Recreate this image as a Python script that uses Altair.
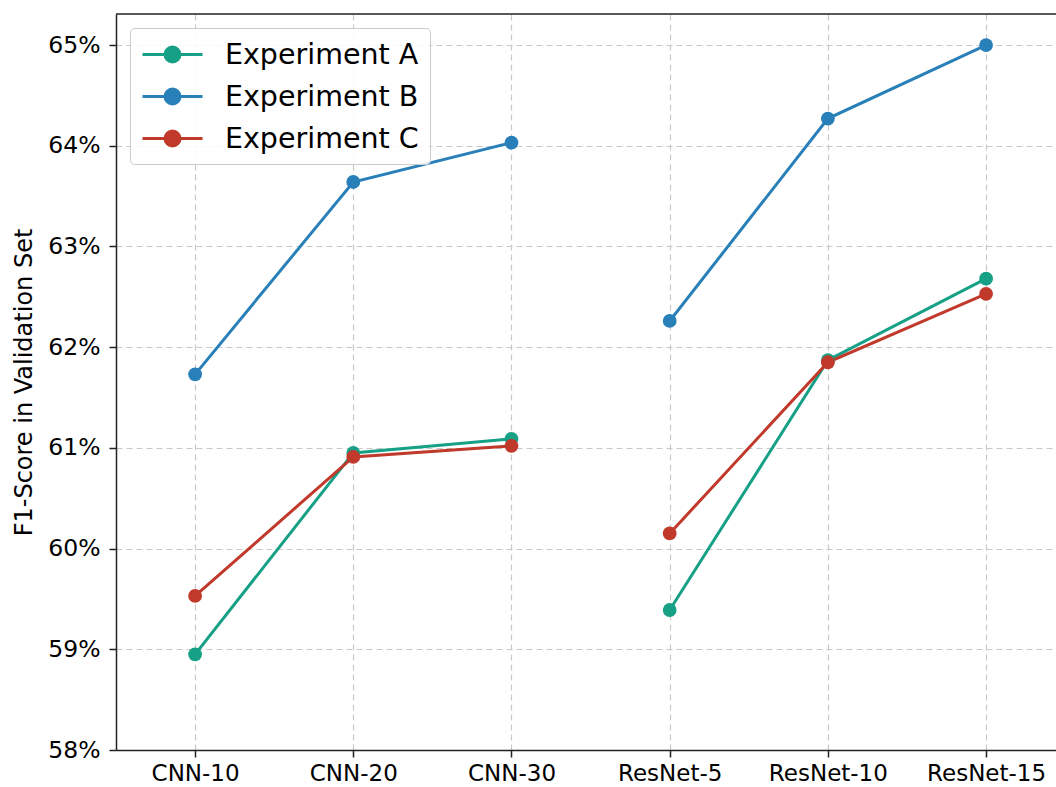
import altair as alt
import pandas as pd

models = ["CNN-10", "CNN-20", "CNN-30", "ResNet-5", "ResNet-10", "ResNet-15"]
groups = ["CNN", "CNN", "CNN", "ResNet", "ResNet", "ResNet"]
series = ["Experiment A", "Experiment B", "Experiment C"]
exp_a = [58.95, 60.95, 61.09, 59.39, 61.87, 62.68]
exp_b = [61.73, 63.64, 64.03, 62.26, 64.27, 65.00]
exp_c = [59.53, 60.91, 61.02, 60.15, 61.85, 62.53]
colors = ["#16a085", "#2980b9", "#c0392b"]
y_ticks = [58, 59, 60, 61, 62, 63, 64, 65]

rows = []
for name, vals in zip(series, [exp_a, exp_b, exp_c]):
    for i, (m, g, v) in enumerate(zip(models, groups, vals)):
        rows.append({"series": name, "idx": i, "model": m, "group": g, "value": v})
df = pd.DataFrame(rows)

W, H = 940, 736
label_expr = "[" + ",".join("'%s'" % m for m in models) + "][datum.value]"

# legend symbol: a 60px line with a filled circle, unit = 14px (symbolSize 784)
u = 14.0
x0, x1 = -1.0, -1.0 + 60 / u
cx = -1.0 + 30 / u
rr = 7.5 / u
sym_path = ("M%.3f,0L%.3f,0M%.3f,0A%.3f,%.3f,0,1,1,%.3f,0A%.3f,%.3f,0,1,1,%.3f,0Z"
            % (x0, x1, cx - rr, rr, rr, cx + rr, rr, rr, cx - rr))

color = alt.Color(
    "series:N",
    scale=alt.Scale(domain=series, range=colors),
    legend=alt.Legend(
        title=None, orient="top-left", offset=14, padding=11,
        symbolType=sym_path, symbolSize=784, symbolStrokeWidth=3,
        symbolOpacity=1, labelFontSize=28.5, labelFont="DejaVu Sans",
        labelColor="#000000", labelOffset=53, rowPadding=12,
        fillColor="rgba(255,255,255,0.85)", strokeColor="#cccccc",
        cornerRadius=4, labelLimit=400,
    ),
)

x = alt.X(
    "idx:Q",
    scale=alt.Scale(domain=[-0.5, 5.442], nice=False, zero=False),
    axis=alt.Axis(values=list(range(len(models))), labelExpr=label_expr, title=None,
                  labelFontSize=23, labelPadding=5, tickSize=7),
)
y = alt.Y(
    "value:Q",
    scale=alt.Scale(domain=[58, 65.308], nice=False, zero=False),
    axis=alt.Axis(values=y_ticks, labelExpr="format(datum.value, 'd') + '%'",
                  title="F1-Score in Validation Set", labelFontSize=23.5,
                  labelPadding=9, tickSize=7, titleFontSize=24,
                  titleFontWeight="normal", titlePadding=11),
)

base = alt.Chart(df)
lines = base.mark_line(strokeWidth=3).encode(
    x=x, y=y, color=color, detail="group:N", order="idx:Q"
)
points = base.mark_circle(size=190, opacity=1).encode(
    x=x, y=y, color=color
)
top = alt.Chart(pd.DataFrame({"a": [0]})).mark_rule(color="#222222", strokeWidth=1.5).encode(
    x=alt.value(0), x2=alt.value(W), y=alt.value(0)
)

chart = alt.layer(lines, points, top).properties(
    width=W, height=H,
    autosize=alt.AutoSizeParams(type="none"),
    padding={"left": 116, "top": 14, "right": 0, "bottom": 37},
).configure_view(stroke=None).configure_axis(
    labelFont="DejaVu Sans", titleFont="DejaVu Sans", labelColor="#000000",
    titleColor="#000000", domainColor="#222222", domainWidth=1.5,
    tickColor="#222222", tickWidth=1.5, gridColor="#c8c8c8", gridWidth=1.2,
    gridDash=[6, 4],
)

chart.save("out.html", embed_options={"renderer": "svg", "actions": False})
